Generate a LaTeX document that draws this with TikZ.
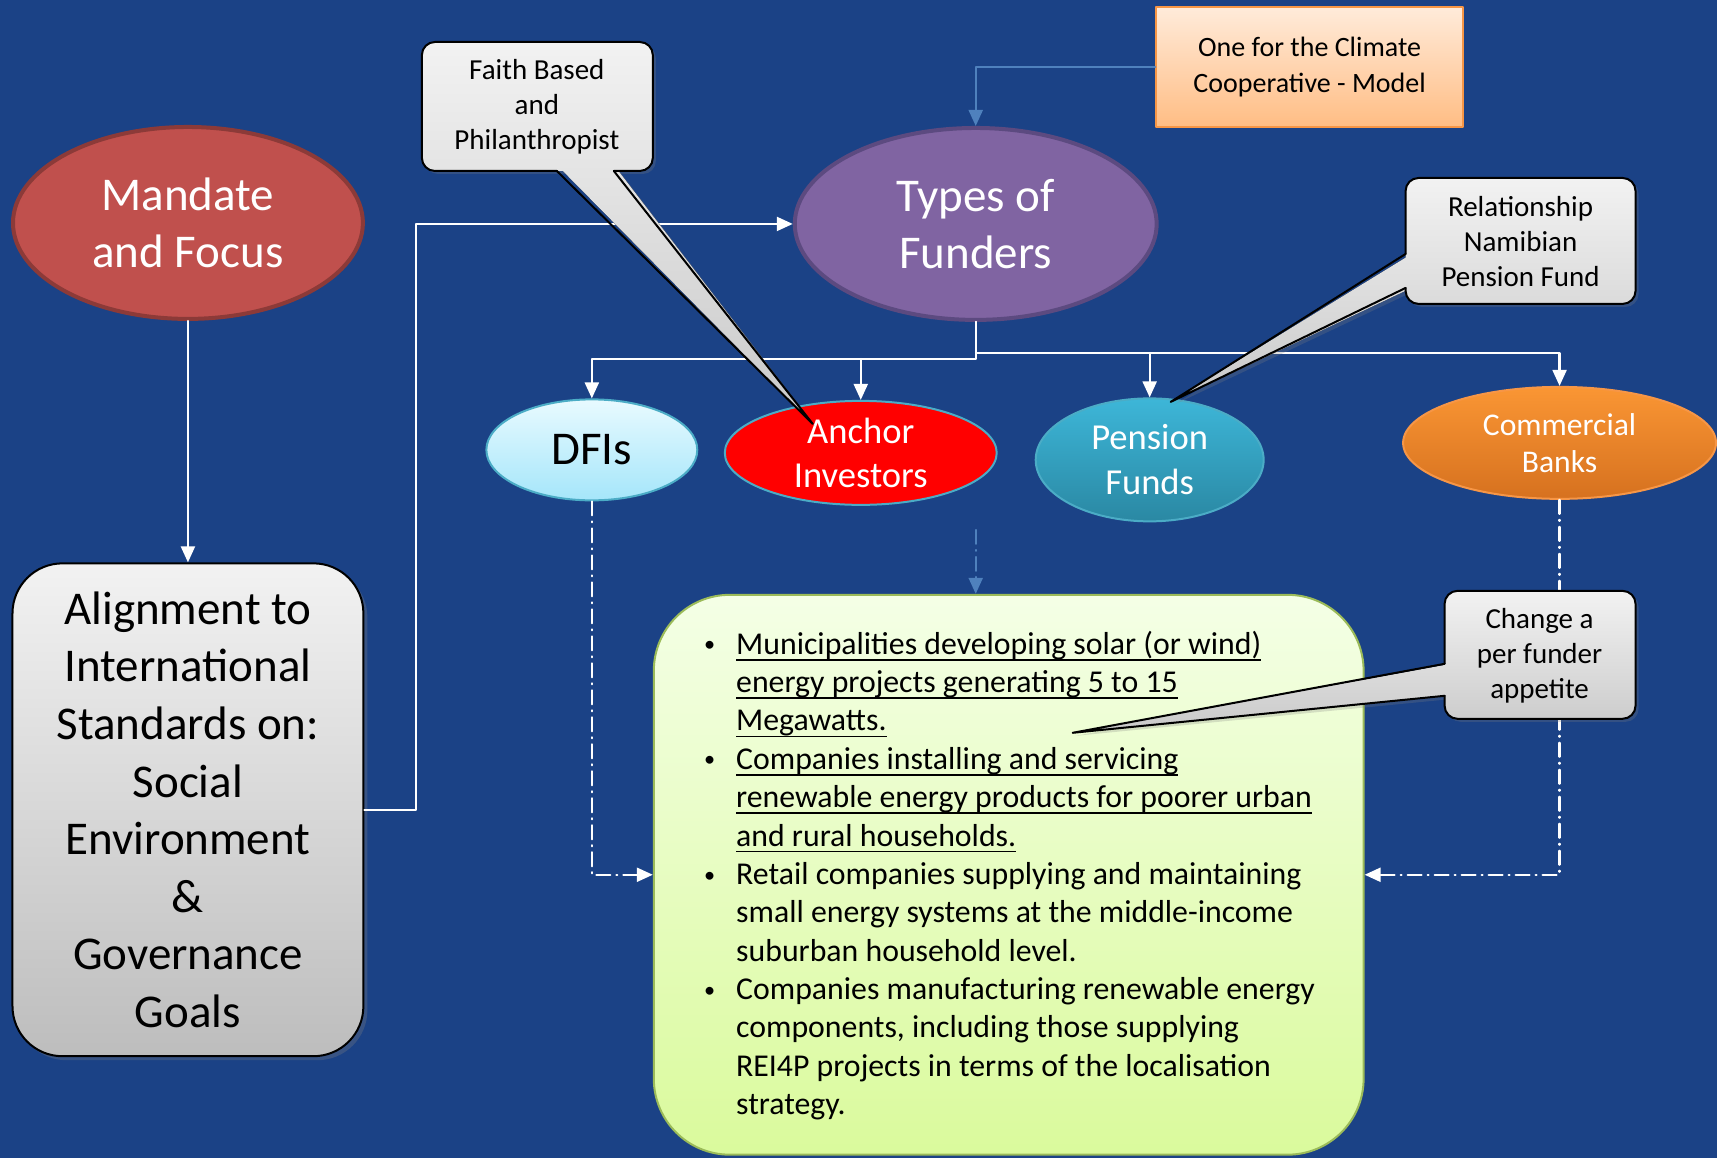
\documentclass[tikz,border=0pt]{standalone}
\usepackage{fontspec}
\setmainfont{Carlito}
\usepackage{pgf,tikz}
\usetikzlibrary{arrows.meta}
\usetikzlibrary{positioning}
\usetikzlibrary{shapes.geometric}
\usetikzlibrary{shadows}

\definecolor{slidebg}{HTML}{1B4286}
\definecolor{mandfill}{HTML}{C0504D}
\definecolor{mandedge}{HTML}{8C3A38}
\definecolor{typefill}{HTML}{8064A2}
\definecolor{typeedge}{HTML}{5C4A80}
\definecolor{onetop}{HTML}{FFEBDA}
\definecolor{onebot}{HTML}{FFBD84}
\definecolor{oneedge}{HTML}{F79646}
\definecolor{onewire}{HTML}{4F81BD}
\definecolor{dfitop}{HTML}{E8FAFF}
\definecolor{dfibot}{HTML}{A5E6FA}
\definecolor{dfiedge}{HTML}{4BACC6}
\definecolor{pentop}{HTML}{3DB6D8}
\definecolor{penbot}{HTML}{2A88A3}
\definecolor{bnktop}{HTML}{FA9634}
\definecolor{bnkbot}{HTML}{D6711F}
\definecolor{greentop}{HTML}{F4FFE6}
\definecolor{greenbot}{HTML}{DAFA9C}
\definecolor{greenedge}{HTML}{9BBB59}
\definecolor{greytop}{HTML}{F2F2F2}
\definecolor{greybot}{HTML}{BDBDBD}
\definecolor{balltop}{HTML}{F2F2F2}
\definecolor{ballbot}{HTML}{C9C9C9}

\newcommand{\bigsz}{\fontsize{23.5}{28.8}\selectfont}
\newcommand{\midsz}{\fontsize{18.3}{22.4}\selectfont}
\newcommand{\comsz}{\fontsize{15.8}{18.6}\selectfont}
\newcommand{\balsz}{\fontsize{14.5}{17.5}\selectfont}
\newcommand{\onesz}{\fontsize{14}{18}\selectfont}
\newcommand{\listsz}{\fontsize{15.9}{19.2}\selectfont}
\newsavebox{\ulbox}
\newcommand{\ulin}[1]{\sbox{\ulbox}{#1}\rlap{\rule[-3.2pt]{\wd\ulbox}{0.8pt}}\usebox{\ulbox}}
\newcommand{\itembul}{\hspace{1pt}\raisebox{1.2pt}{\scalebox{0.7}{\textbullet}}}

\begin{document}
\begin{tikzpicture}[line cap=round,line join=round,>={Triangle[length=8pt,width=7pt]},x=0.5pt,y=-0.5pt,
  funder/.style={ellipse,inner sep=0pt,align=center,line width=1pt},
  wire/.style={draw=white,line width=1.1pt},
  dashwire/.style={wire,dash pattern=on 7pt off 3pt on 0.5pt off 3pt},
  ballfill/.style={top color=balltop,bottom color=ballbot,drop shadow={opacity=0.25,shadow xshift=1.5pt,shadow yshift=-1.5pt}},
  ballline/.style={draw=black,line width=1pt},
  balltext/.style={align=center,font=\balsz}]
\fill[slidebg] (0,0) rectangle (1717,1158);

% main nodes
\node[funder,draw=mandedge,line width=2pt,fill=mandfill,text=white,minimum width=175pt,minimum height=96pt,font=\bigsz] (mandate) at (188,223) {Mandate\\and Focus};
\node[draw=black,line width=1pt,rounded corners=25pt,top color=greytop,bottom color=greybot,minimum width=175.5pt,minimum height=246.5pt,align=center,font=\bigsz,drop shadow={opacity=0.3,shadow xshift=2pt,shadow yshift=-2pt}] (align) at (188,810) {Alignment to\\International\\Standards on:\\Social\\Environment\\\&\\Governance\\Goals};
\node[funder,draw=typeedge,line width=2pt,fill=typefill,text=white,minimum width=181pt,minimum height=96pt,font=\bigsz] (types) at (976,224) {Types of\\Funders};
\node[draw=oneedge,line width=1pt,top color=onetop,bottom color=onebot,minimum width=153.5pt,minimum height=60pt,align=center,font=\onesz] (one) at (1310,67) {One for the Climate\\Cooperative - Model};

% funders
\node[funder,draw=dfiedge,top color=dfitop,bottom color=dfibot,minimum width=105.5pt,minimum height=50.5pt,font=\bigsz] (dfis) at (592,450) {DFIs};
\node[funder,draw=dfiedge,fill=red,text=white,minimum width=136pt,minimum height=52pt,inner ysep=-2pt,font=\midsz] (anchor) at (861,453) {Anchor\\Investors};
\node[funder,draw=dfiedge,top color=pentop,bottom color=penbot,text=white,minimum width=114pt,minimum height=61.5pt,font=\midsz] (pension) at (1150,460) {Pension\\Funds};
\node[funder,draw=oneedge,top color=bnktop,bottom color=bnkbot,text=white,minimum width=156.5pt,minimum height=56pt,font=\comsz] (banks) at (1560,443) {Commercial\\Banks};

% target list
\node[draw=greenedge,line width=1pt,rounded corners=38pt,top color=greentop,bottom color=greenbot,minimum width=355pt,minimum height=280pt] (green) at (1009,875) {};
\node[anchor=west,inner sep=0pt,font=\listsz] (targets) at (702,877) {%
\begin{tabular}{@{}p{17pt}@{}l@{}}
\itembul & \ulin{Municipalities developing solar (or wind)}\\
 & \ulin{energy projects generating 5 to 15}\\
 & \ulin{Megawatts.}\\
\itembul & \ulin{Companies installing and servicing}\\
 & \ulin{renewable energy products for poorer urban}\\
 & \ulin{and rural households.}\\
\itembul & Retail companies supplying and maintaining\\
 & small energy systems at the middle-income\\
 & suburban household level.\\
\itembul & Companies manufacturing renewable energy\\
 & components, including those supplying\\
 & REI4P projects in terms of the localisation\\
 & strategy.
\end{tabular}};

% connectors
\coordinate (lsplit) at (976,359);
\coordinate (rsplit) at (976,353);
\coordinate (fundtail) at (976,530);
\draw[draw=onewire,line width=1.1pt,dash pattern=on 7pt off 3pt on 0.5pt off 3pt,->] (fundtail) -- (fundtail |- green.north);
\draw[draw=onewire,line width=1.1pt,->] (one.west) -| (types.north);
\draw[wire,->] (mandate.south) -- (align.north);
\draw[wire,->] (align.east) -- ++(52,0) |- (types.west);
\draw[wire,->] (types.south) -- (lsplit) -| (dfis.north);
\draw[wire,->] (lsplit -| anchor.north) -- (anchor.north);
\draw[wire,->] (types.south) -- (rsplit) -| (banks.north);
\draw[wire,->] (rsplit -| pension.north) -- (pension.north);
\draw[dashwire,->] (dfis.south) |- (green.west);
\draw[dashwire,->] (banks.south) |- (green.east);

% callouts
\coordinate (faithtip) at (813,424);
\fill[ballfill] (537,42) [rounded corners=6.5pt] -- (653,42) -- (653,171) -- (422,171) -- (422,42) -- cycle
  [sharp corners] (614,165) -- (faithtip) -- (557,165) -- cycle;
\draw[ballline] (557,171) [rounded corners=6.5pt] -- (422,171) -- (422,42) -- (653,42) -- (653,171) -- (614,171);
\draw[ballline] (614,171) -- (faithtip) -- (557,171);
\node[balltext] (faith) at (537,107) {Faith Based\\and\\Philanthropist};

\coordinate (relatip) at (1171,402);
\fill[ballfill] (1521,178) [rounded corners=6.5pt] -- (1636,178) -- (1636,304) -- (1406,304) -- (1406,178) -- cycle
  [sharp corners] (1412,288) -- (relatip) -- (1412,254) -- cycle;
\draw[ballline] (1406,254) [rounded corners=6.5pt] -- (1406,178) -- (1636,178) -- (1636,304) -- (1406,304) -- (1406,288);
\draw[ballline] (1406,288) -- (relatip) -- (1406,254);
\node[balltext] (relation) at (1521,242) {Relationship\\Namibian\\Pension Fund};

\coordinate (changetip) at (1073,733);
\fill[ballfill] (1540,591) [rounded corners=6.5pt] -- (1636,591) -- (1636,719) -- (1445,719) -- (1445,591) -- cycle
  [sharp corners] (1451,696) -- (changetip) -- (1451,664) -- cycle;
\draw[ballline] (1445,664) [rounded corners=6.5pt] -- (1445,591) -- (1636,591) -- (1636,719) -- (1445,719) -- (1445,696);
\draw[ballline] (1445,696) -- (changetip) -- (1445,664);
\node[balltext] (change) at (1540,656) {Change a\\per funder\\appetite};
\end{tikzpicture}
\end{document}
